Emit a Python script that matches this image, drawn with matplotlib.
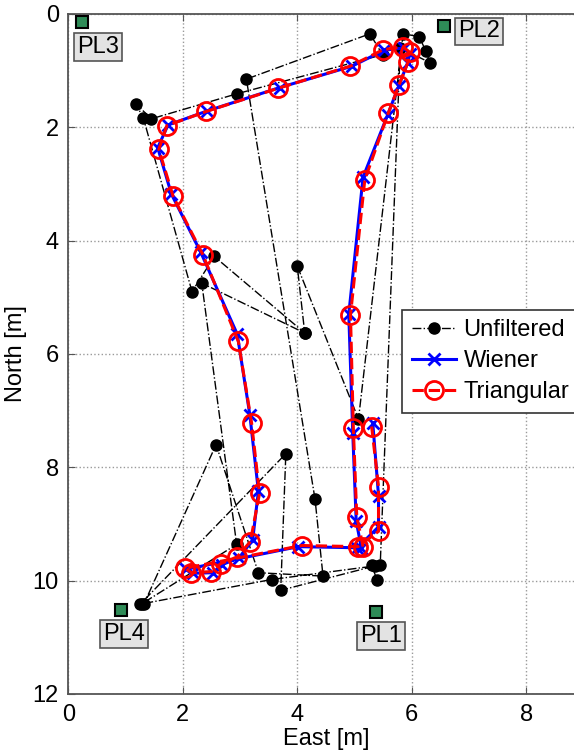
import matplotlib.pyplot as plt

plt.rcParams['font.family'] = ['Liberation Sans', 'DejaVu Sans']

# raw position estimates (chronological), East / North in metres
unf_east = [5.39, 5.30, 5.45, 5.80, 6.32, 6.25, 6.13, 5.85, 5.07, 4.00, 4.13, 2.55,
            2.16, 1.31, 1.18, 1.45, 2.94, 5.49, 5.27, 3.11, 4.31, 4.45, 3.32, 2.58,
            1.32, 1.25, 3.80, 3.71, 5.36, 3.55, 1.28, 2.94, 2.33, 4.13]
unf_north = [9.98, 9.72, 9.72, 0.60, 0.86, 0.66, 0.40, 0.35, 7.15, 4.45, 5.63, 4.28,
             4.90, 1.84, 1.59, 1.85, 1.41, 0.72, 0.35, 1.15, 8.56, 9.92, 9.86, 7.60,
             10.41, 10.42, 7.76, 10.17, 9.74, 9.98, 10.41, 9.36, 4.75, 5.63]

# Wiener filtered track
wie_east = [5.12, 5.03, 4.97, 4.90, 5.15, 5.58, 5.77, 5.93, 5.97, 5.86, 5.52, 4.96,
            3.69, 2.43, 1.74, 1.56, 1.80, 2.31, 2.95, 3.17, 3.32, 3.22, 2.98, 2.68,
            2.52, 2.17, 2.05, 4.02, 5.05, 5.42, 5.42, 5.32]
wie_north = [9.42, 8.95, 7.40, 5.30, 2.88, 1.78, 1.28, 0.86, 0.70, 0.60, 0.64, 0.92,
             1.30, 1.71, 1.96, 2.36, 3.18, 4.20, 5.65, 7.07, 8.42, 9.28, 9.60, 9.72,
             9.86, 9.87, 9.80, 9.40, 9.42, 9.05, 8.50, 7.22]

# Triangular filtered track
tri_east = [5.15, 5.04, 4.98, 4.93, 5.18, 5.59, 5.78, 5.94, 5.97, 5.85, 5.50, 4.93,
            3.67, 2.41, 1.72, 1.58, 1.83, 2.35, 2.97, 3.20, 3.34, 3.18, 2.95, 2.66,
            2.50, 2.15, 2.04, 4.08, 5.06, 5.42, 5.42, 5.30]
tri_north = [9.40, 8.87, 7.31, 5.31, 2.93, 1.75, 1.25, 0.84, 0.68, 0.58, 0.63, 0.92,
             1.31, 1.72, 1.97, 2.39, 3.22, 4.25, 5.78, 7.21, 8.46, 9.31, 9.58, 9.70,
             9.84, 9.86, 9.78, 9.38, 9.40, 9.13, 8.34, 7.28]

# anchors
pl_names = ['PL1', 'PL2', 'PL3', 'PL4']
pl_east = [5.37, 6.57, 0.245, 0.91]
pl_north = [10.56, 0.21, 0.145, 10.52]
# label offsets in points
pl_offsets = {'PL1': (4, -17), 'PL2': (25, -4), 'PL3': (11, -18), 'PL4': (2.5, -17)}

fig = plt.figure(figsize=(5.74, 7.54), dpi=100)
ax = fig.add_axes([0.1193, 0.0796, 0.8969, 0.9019])

ax.plot(unf_east, unf_north, '-.', color='black', lw=1.0, marker='o', ms=8,
        label='Unfiltered', zorder=2)
ax.plot(wie_east, wie_north, '-', color='#0000ff', lw=2.2, marker='x', ms=9, mew=2,
        label='Wiener', zorder=3)
ax.plot(tri_east, tri_north, '--', color='#ff0000', lw=2.2, marker='o', ms=13, mew=2,
        mfc='none', label='Triangular', zorder=4)

ax.plot(pl_east, pl_north, 's', ms=9, mfc='#2e8b57', mec='black', mew=1.5,
        zorder=5, clip_on=False)
for name, x, y in zip(pl_names, pl_east, pl_north):
    ax.annotate(name, (x, y), xytext=pl_offsets[name], textcoords='offset points',
                ha='center', va='center', fontsize=17, zorder=6,
                bbox=dict(boxstyle='square,pad=0.12', fc='#e3e3e3', ec='#555555', lw=1.2))

ax.set_xlim(0, 9)
ax.set_ylim(12, 0)
ax.set_xticks([0, 2, 4, 6, 8])
ax.set_yticks([0, 2, 4, 6, 8, 10, 12])
ax.grid(True, linestyle=':', color='#9a9a9a', lw=1.0)
ax.set_axisbelow(True)
ax.tick_params(direction='in', top=True, right=True, labelsize=17, length=5,
               color='#555555', pad=7)
for s in ax.spines.values():
    s.set_color('#555555')
    s.set_linewidth(1.3)

ax.set_xlabel('East [m]', fontsize=17, labelpad=2)
ax.set_ylabel('North [m]', fontsize=17, labelpad=4)

leg = ax.legend(loc='upper left', bbox_to_anchor=(0.648, 0.565), borderaxespad=0,
                fontsize=17, handlelength=1.9, handletextpad=0.3, labelspacing=0.38,
                borderpad=0.4, fancybox=False, framealpha=1, edgecolor='#333333')
leg.get_frame().set_linewidth(1.2)

fig.savefig('out.png', dpi=100)
